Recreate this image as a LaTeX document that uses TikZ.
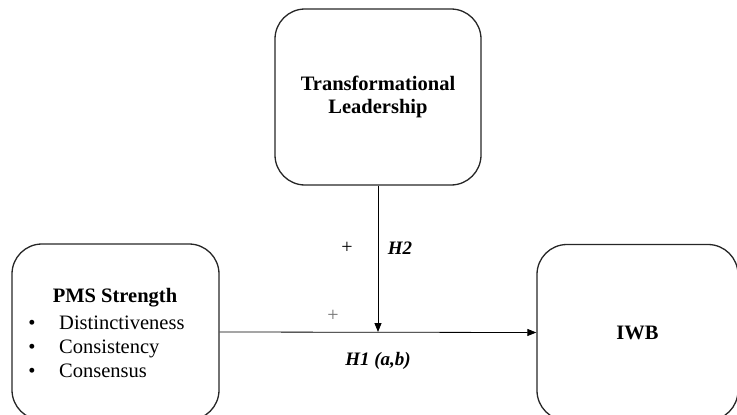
\documentclass[tikz,border=0pt]{standalone}
\usepackage{fontspec}
\setmainfont{Liberation Serif}
\usepackage{tikz}
\usetikzlibrary{arrows.meta}

\begin{document}
\begin{tikzpicture}[x=1pt, y=-1pt,
        box/.style={rectangle, rounded corners=30pt, draw=black!85, line width=1.3pt,
            minimum width=206pt, minimum height=176pt, align=center,
            font=\fontsize{20.5}{23}\selectfont\bfseries},
        arr/.style={-{Triangle[length=9pt, width=7pt]}, line width=0.8pt},
        txt/.style={font=\fontsize{20.5}{24}\selectfont, inner sep=0pt, anchor=base},
        hyp/.style={font=\fontsize{19}{22}\selectfont\bfseries\itshape, inner sep=0pt}]
            \useasboundingbox (0,0) rectangle (737,415);
            \clip (0,0) rectangle (737,415);

            % Nodes
            \node[box] (tl) at (378,97) {Transformational\\Leadership};
            \node[box, minimum width=207pt] (pms) at (115.5,332) {};
            \node[box, minimum width=201pt] (iwb) at (637.5,332.5) {IWB};
            \node[txt, font=\fontsize{20.5}{24}\selectfont\bfseries] (pmstitle) at (115,302) {PMS Strength};
            \node[txt] (b1) at (32,329) {\textbullet};
            \node[txt] (b2) at (32,353) {\textbullet};
            \node[txt] (b3) at (32,377) {\textbullet};
            \node[txt, anchor=base west] (d1) at (59,329) {Distinctiveness};
            \node[txt, anchor=base west] (d2) at (59,353) {Consistency};
            \node[txt, anchor=base west] (d3) at (59,377) {Consensus};

            % Edges
            \draw[arr] (pms.east) -- (iwb.west);
            \coordinate (meet) at (tl.south |- pms.east);
            \draw[arr] (tl.south) -- (meet);

            % Labels
            \node[txt, font=\fontsize{20}{22}\selectfont, anchor=center] (plus2) at (347,248) {+};
            \node[hyp] (h2) at (400,248) {H2};
            \node[txt, font=\fontsize{20}{22}\selectfont, anchor=center, text=black!55] (plus1) at (333,316) {+};
            \node[hyp] (h1) at (378,361) {H1 (a,b)};
        \end{tikzpicture}
\end{document}
